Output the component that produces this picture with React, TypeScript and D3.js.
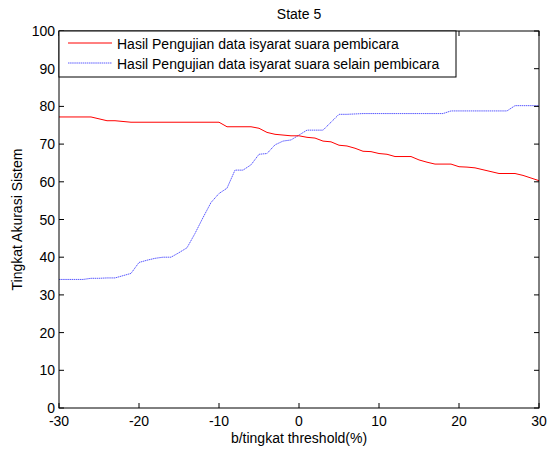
import { useRef, useEffect } from "react";
import * as d3 from "d3";

// threshold values -30..30
const thresholds = d3.range(-30, 31);

// accuracy, speaker data (red)
const speakerAcc = [
  77.2, 77.2, 77.2, 77.2, 77.2, 76.7, 76.2, 76.2, 76.0, 75.8,
  75.8, 75.8, 75.8, 75.8, 75.8, 75.8, 75.8, 75.8, 75.8, 75.8,
  75.8, 74.6, 74.6, 74.6, 74.6, 74.2, 73.1, 72.6, 72.4, 72.2,
  72.2, 71.8, 71.6, 70.8, 70.6, 69.7, 69.5, 68.9, 68.1, 68.0,
  67.5, 67.3, 66.7, 66.7, 66.7, 65.8, 65.2, 64.7, 64.7, 64.7,
  64.0, 63.9, 63.7, 63.2, 62.7, 62.2, 62.2, 62.2, 61.7, 61.0,
  60.3,
];

// accuracy, non-speaker data (blue)
const otherAcc = [
  34.1, 34.1, 34.1, 34.1, 34.4, 34.4, 34.5, 34.5, 35.1, 35.7,
  38.6, 39.2, 39.7, 40.0, 40.0, 41.2, 42.5, 46.3, 50.5, 54.5,
  56.9, 58.3, 63.1, 63.1, 64.5, 67.3, 67.5, 69.8, 70.8, 71.1,
  72.4, 73.7, 73.7, 73.7, 75.8, 77.9, 77.9, 78.0, 78.1, 78.1,
  78.1, 78.1, 78.1, 78.1, 78.1, 78.1, 78.1, 78.1, 78.1, 78.8,
  78.8, 78.8, 78.8, 78.8, 78.8, 78.8, 78.8, 80.2, 80.2, 80.2,
  80.2,
];

const xTicks = [-30, -20, -10, 0, 10, 20, 30];
const yTicks = [0, 10, 20, 30, 40, 50, 60, 70, 80, 90, 100];
const legendLabels = [
  "Hasil Pengujian data isyarat suara pembicara",
  "Hasil Pengujian data isyarat suara selain pembicara",
];

const width = 548;
const height = 450;
const margin = { top: 31, right: 9, bottom: 42, left: 59 };

const App = () => {
  const svgRef = useRef<SVGSVGElement>(null);

  useEffect(() => {
    const svg = d3.select(svgRef.current);
    svg.selectAll("*").remove();
    const font = "'Liberation Sans', Arial, sans-serif";
    const fs = "14px";

    const x = d3
      .scaleLinear()
      .domain([-30, 30])
      .range([margin.left, width - margin.right]);
    const y = d3
      .scaleLinear()
      .domain([0, 100])
      .range([height - margin.bottom, margin.top]);

    const x0 = x(-30), x1 = x(30), y0 = y(0), y1 = y(100);

    svg
      .append("rect")
      .attr("x", 0)
      .attr("y", 0)
      .attr("width", width)
      .attr("height", height)
      .attr("fill", "#fff");

    const lineGen = d3
      .line<number>()
      .x((d, i) => x(thresholds[i]))
      .y((d) => y(d));

    svg
      .append("path")
      .datum(otherAcc)
      .attr("d", lineGen)
      .attr("fill", "none")
      .attr("stroke", "#5c5cff")
      .attr("stroke-width", 1)
      .attr("stroke-dasharray", "1.5,0.6");

    svg
      .append("path")
      .datum(speakerAcc)
      .attr("d", lineGen)
      .attr("fill", "none")
      .attr("stroke", "#ff0000")
      .attr("stroke-width", 1);

    // box
    svg
      .append("rect")
      .attr("x", x0)
      .attr("y", y1)
      .attr("width", x1 - x0)
      .attr("height", y0 - y1)
      .attr("fill", "none")
      .attr("stroke", "#000")
      .attr("stroke-width", 1);

    const tickLen = 5;
    // x ticks (bottom and top)
    xTicks.forEach((t) => {
      svg.append("line")
        .attr("x1", x(t)).attr("x2", x(t))
        .attr("y1", y0).attr("y2", y0 - tickLen)
        .attr("stroke", "#000");
      svg.append("line")
        .attr("x1", x(t)).attr("x2", x(t))
        .attr("y1", y1).attr("y2", y1 + tickLen)
        .attr("stroke", "#000");
      svg.append("text")
        .attr("x", x(t))
        .attr("y", y0 + 18)
        .attr("text-anchor", "middle")
        .style("font-family", font)
        .style("font-size", fs)
        .text(t);
    });

    // y ticks (left and right)
    yTicks.forEach((t) => {
      svg.append("line")
        .attr("x1", x0).attr("x2", x0 + tickLen)
        .attr("y1", y(t)).attr("y2", y(t))
        .attr("stroke", "#000");
      svg.append("line")
        .attr("x1", x1).attr("x2", x1 - tickLen)
        .attr("y1", y(t)).attr("y2", y(t))
        .attr("stroke", "#000");
      svg.append("text")
        .attr("x", x0 - 4)
        .attr("y", y(t) + 5)
        .attr("text-anchor", "end")
        .style("font-family", font)
        .style("font-size", fs)
        .text(t);
    });

    // title and axis labels
    svg.append("text")
      .attr("x", (x0 + x1) / 2)
      .attr("y", 19)
      .attr("text-anchor", "middle")
      .style("font-family", font)
      .style("font-size", fs)
      .text("State 5");

    svg.append("text")
      .attr("x", (x0 + x1) / 2)
      .attr("y", 443)
      .attr("text-anchor", "middle")
      .style("font-family", font)
      .style("font-size", fs)
      .text("b/tingkat threshold(%)");

    svg.append("text")
      .attr("transform", `translate(22,${(y0 + y1) / 2}) rotate(-90)`)
      .attr("text-anchor", "middle")
      .style("font-family", font)
      .style("font-size", fs)
      .text("Tingkat Akurasi Sistem");

    // legend
    const legend = svg.append("g");
    legend.append("rect")
      .attr("x", x0)
      .attr("y", y1)
      .attr("width", 397)
      .attr("height", 46)
      .attr("fill", "#fff")
      .attr("stroke", "#000");

    const colors = ["#ff0000", "#5c5cff"];
    const dashes = [null, "1.5,0.6"];
    legendLabels.forEach((label, i) => {
      const ly = y1 + 12 + i * 20;
      legend.append("line")
        .attr("x1", x0 + 9).attr("x2", x0 + 53)
        .attr("y1", ly).attr("y2", ly)
        .attr("stroke", colors[i])
        .attr("stroke-dasharray", dashes[i]);
      legend.append("text")
        .attr("x", x0 + 58)
        .attr("y", ly + 5.5)
        .style("font-family", font)
        .style("font-size", fs)
        .text(label);
    });
  }, []);

  return (
    <svg
      ref={svgRef}
      width={width}
      height={height}
      style={{ position: "absolute", left: 0, top: 0 }}
    ></svg>
  );
};

export default App;
